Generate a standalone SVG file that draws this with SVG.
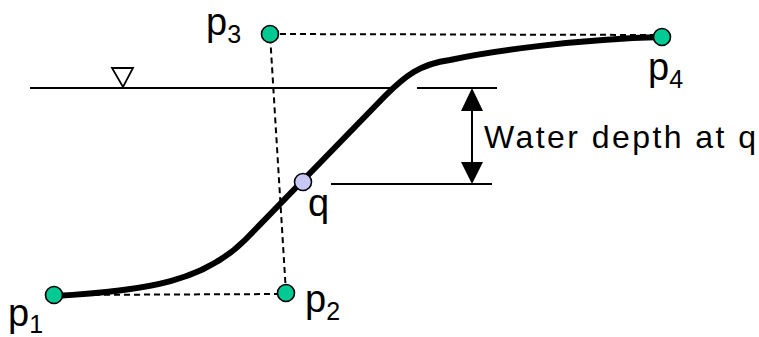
<svg xmlns="http://www.w3.org/2000/svg" width="759" height="337" viewBox="0 0 759 337">
<style>
.dash{stroke:#000;stroke-width:2;stroke-dasharray:6,4;fill:none}
.thin{stroke:#000;stroke-width:2;fill:none}
.curve{stroke:#000;stroke-width:6;fill:none;stroke-linecap:round;stroke-linejoin:round}
.pt{fill:#00c994;stroke:#000;stroke-width:1.6}
.qpt{fill:#c8c8f8;stroke:#000;stroke-width:1.6}
.lbl{font-family:"Liberation Sans",Arial,sans-serif;fill:#000}
.big{font-size:38px}
.sub{font-size:25px}
</style>
<rect width="759" height="337" fill="#fff"/>
<g id="connectors">
<line class="dash" x1="54" y1="295" x2="286" y2="294"/>
<line class="dash" x1="286" y1="293" x2="270" y2="34"/>
<line class="dash" x1="270" y1="34" x2="662" y2="35"/>
<line class="thin" x1="30" y1="88" x2="396" y2="88"/>
<line class="thin" x1="417" y1="88" x2="497" y2="88"/>
<line class="thin" x1="331" y1="184" x2="492" y2="184"/>
<line class="thin" x1="472" y1="100" x2="472" y2="172"/>
<polygon points="472,88 461,111 483,111" fill="#000"/>
<polygon points="472,184 461,162 483,162" fill="#000"/>
<path class="curve" d="M54,296 C150,291 205,280 245,240 L385,96 C405,76 420,64 450,60 C490,51 580,39 662,37"/>
</g>
<g id="water-level">
<polygon points="112,68 133,68 123,87" fill="none" stroke="#000" stroke-width="1.8"/>
</g>
<g id="p1">
<circle class="pt" cx="54" cy="295" r="8.5"/>
<text class="lbl" x="8" y="326"><tspan class="big">p</tspan><tspan class="sub" dy="7">1</tspan></text>
</g>
<g id="p2">
<circle class="pt" cx="286" cy="293" r="8.5"/>
<text class="lbl" x="305" y="312"><tspan class="big">p</tspan><tspan class="sub" dy="8">2</tspan></text>
</g>
<g id="p3">
<circle class="pt" cx="270" cy="34" r="8.5"/>
<text class="lbl" x="206" y="35"><tspan class="big">p</tspan><tspan class="sub" dy="8">3</tspan></text>
</g>
<g id="p4">
<circle class="pt" cx="662" cy="37" r="8.5"/>
<text class="lbl" x="648" y="80"><tspan class="big">p</tspan><tspan class="sub" dy="8">4</tspan></text>
</g>
<g id="q">
<circle class="qpt" cx="303" cy="182" r="8.5"/>
<text class="lbl" x="308" y="216" font-size="38">q</text>
</g>
<g id="depth-label">
<text class="lbl" x="484" y="148" font-size="32" textLength="272" lengthAdjust="spacing">Water depth at q</text>
</g>
</svg>
